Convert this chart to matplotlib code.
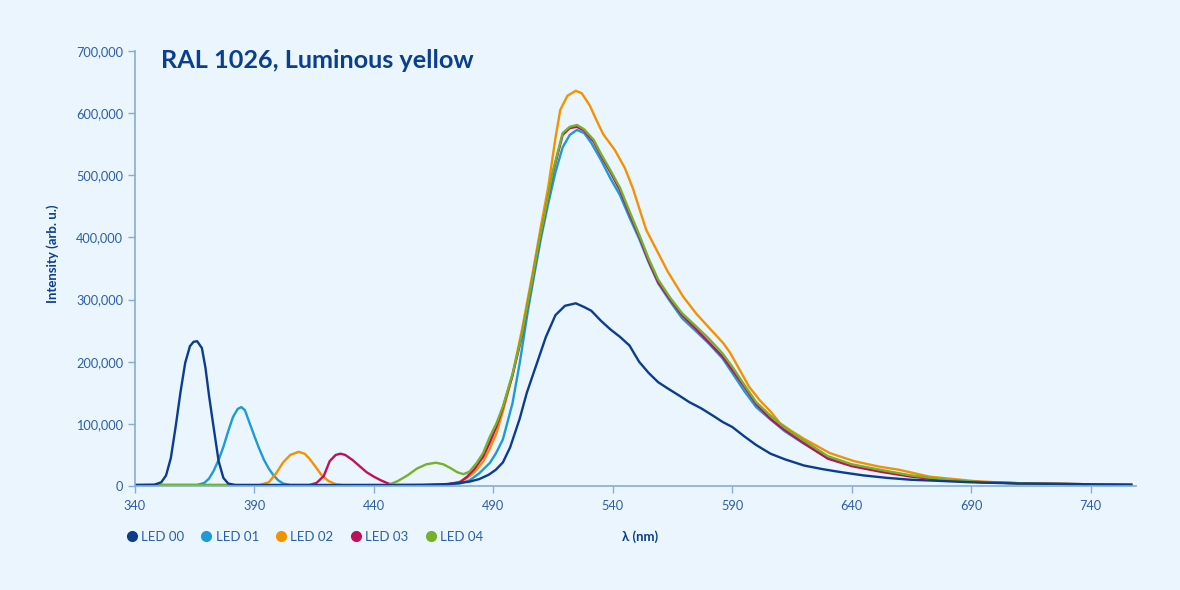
import matplotlib.pyplot as plt
from matplotlib.lines import Line2D
from matplotlib.ticker import FuncFormatter

plt.rcParams['font.family'] = ['Lato', 'DejaVu Sans']

# wavelengths (nm) and intensities (thousands, arb. u.)
led00_nm = [340, 348, 351, 353, 355, 357, 359, 361, 363, 364.5, 366, 368, 369.5, 371, 373, 375, 377, 379, 382, 386,
            460, 470, 476, 480, 484, 488, 491, 494, 497, 501, 504, 508, 512, 516, 520, 524.5, 528, 531, 535, 539,
            543, 547, 551, 555, 559, 563, 568, 572, 577, 582, 586, 590, 595, 600, 606, 612, 620, 628, 636, 645,
            655, 665, 675, 690, 710, 735, 757]
led00_val = [1.5, 2, 6, 17, 45, 95, 150, 198, 225, 232, 233, 222, 190, 145, 92, 40, 13, 4, 1.5, 1.5,
             1.5, 3, 5, 7, 11, 18, 26, 38, 62, 108, 150, 195, 240, 275, 290, 294, 288, 282, 266, 252,
             240, 226, 200, 182, 167, 157, 145, 135, 125, 113, 103, 95, 80, 66, 52, 43, 33, 27, 22, 17,
             13, 10, 8.5, 6, 4, 3, 2]

led01_nm = [340, 366, 369, 371, 373, 375, 377, 379, 381, 383, 384.5, 386, 388, 390, 392, 394, 396, 398, 400, 402,
            405, 470, 476, 480, 484, 488.5, 491, 494, 498, 501, 504.5, 507.5, 510, 513, 516, 519, 522, 525, 528,
            531, 535, 539, 543, 547, 551, 555, 559, 564, 569, 574, 580, 586, 590, 595, 600, 606, 612, 620, 630,
            640, 652, 665, 680, 695, 715, 735, 757]
led01_val = [1.5, 1.5, 5, 12, 25, 42, 63, 88, 111, 124, 127, 122, 101, 80, 60, 42, 28, 17, 9, 4,
             1.5, 1.5, 4, 9, 20, 37, 52, 75, 133, 197, 283, 348, 400, 455, 505, 545, 565, 573, 568,
             552, 525, 495, 468, 432, 398, 360, 326, 297, 270, 252, 230, 205, 182, 153, 127, 107, 88, 68, 45,
             33, 24, 16, 10, 6, 4, 3, 2]

led02_nm = [340, 392, 396, 399, 402, 405, 408.5, 411, 413, 415, 418, 421, 424, 427, 470, 476, 479, 482, 485.7,
            488.5, 491.3, 494, 498, 502, 506.7, 510, 513, 516, 518, 521, 524.5, 527, 530.4, 533, 536, 540.8,
            545, 548.5, 551.3, 554, 558.3, 563, 569.4, 575, 580, 586.2, 589, 593.1, 597, 601.5, 606, 610,
            615, 620, 630.8, 641, 651.7, 660, 672.6, 691, 710, 735, 757]
led02_val = [1.5, 1.5, 6, 20, 38, 50, 55, 52, 44, 34, 18, 8, 3, 1.5, 2, 7, 13, 22, 39,
             60, 85, 120, 178, 252, 348, 420, 482, 560, 605, 628, 636, 632, 612, 590, 566, 541,
             512, 478, 444, 412, 380, 345, 305, 277, 256, 230, 215, 187, 160, 138, 120, 101,
             88, 76, 53, 40, 31, 26, 15, 8, 4, 3, 2]

led03_nm = [340, 413, 416, 419, 421.5, 424, 426, 428, 431, 434, 437, 440, 443, 446, 449, 470, 476, 479, 482,
            485.7, 488.5, 491.3, 494, 498, 502, 506, 509, 512, 515, 519, 522, 525, 528, 532, 535, 539, 543,
            547, 551, 555, 559, 564, 569, 574, 580, 586, 590, 595, 600, 606, 612, 620, 630, 640, 652, 665,
            680, 695, 715, 735, 757]
led03_val = [1.5, 1.5, 5, 16, 40, 50, 52, 50, 42, 32, 22, 15, 9, 4, 1.5, 2, 6, 15, 27,
             47, 70, 96, 126, 178, 242, 324, 388, 445, 505, 565, 576, 578, 572, 554, 532, 505, 476,
             438, 402, 362, 328, 300, 275, 256, 232, 208, 187, 160, 132, 108, 90, 69, 44, 32, 23, 15,
             9, 6, 4, 3, 2]

led04_nm = [340, 446, 450, 454, 458, 462, 466, 469, 472, 475, 477.5, 480, 483, 485.7, 488.5, 491.3, 494, 498,
            502, 506, 509, 512, 515, 519, 522, 525, 528, 532, 535, 539, 543, 547, 551, 555, 559, 564, 569,
            574, 580, 586, 590, 595, 600, 606, 612, 620, 630, 640, 652, 665, 680, 695, 715, 735, 757]
led04_val = [1.5, 1.5, 8, 17, 28, 35, 37.5, 35, 29, 22, 19, 23, 37, 53, 79, 101, 128, 180,
             245, 326, 390, 447, 508, 568, 578, 581, 574, 557, 535, 508, 480, 442, 405, 366, 332, 303, 278,
             260, 238, 213, 192, 163, 135, 113, 94, 73, 48, 35, 26, 17, 10, 6, 4, 3, 2]

series_names = ["LED 00", "LED 01", "LED 02", "LED 03", "LED 04"]
series_colors = ["#0c3c8e", "#1d9ad8", "#f39200", "#c0105c", "#76b12a"]

bg = "#eaf5fd"
axis_col = "#86acd8"
tick_col = "#2c5fa8"
dark_blue = "#0a3f8f"

fig = plt.figure(figsize=(11.8, 5.9), dpi=100, facecolor=bg)
ax = fig.add_axes([135 / 1180, 1 - 486 / 590, 1001 / 1180, 435 / 590])
ax.set_facecolor(bg)

data = {
    "LED 00": (led00_nm, led00_val),
    "LED 01": (led01_nm, led01_val),
    "LED 02": (led02_nm, led02_val),
    "LED 03": (led03_nm, led03_val),
    "LED 04": (led04_nm, led04_val),
}
# draw order: navy on top
for name in ["LED 01", "LED 02", "LED 03", "LED 04", "LED 00"]:
    nm, val = data[name]
    col = series_colors[series_names.index(name)]
    ax.plot(nm, [v * 1000 for v in val], color=col, lw=1.7, solid_joinstyle="round")

ax.set_xlim(340, 759)
ax.set_ylim(0, 700000)
ax.set_xticks(range(340, 741, 50))
ax.set_yticks(range(0, 700001, 100000))
ax.yaxis.set_major_formatter(FuncFormatter(lambda v, p: "{:,.0f}".format(v)))

for s in ["top", "right"]:
    ax.spines[s].set_visible(False)
for s in ["left", "bottom"]:
    ax.spines[s].set_color(axis_col)
    ax.spines[s].set_linewidth(1.2)
ax.tick_params(colors=axis_col, labelcolor=tick_col, labelsize=9.2, length=5, width=1)
ax.tick_params(axis="x", pad=5)

ax.set_ylabel("Intensity (arb. u.)", fontsize=9.5, fontweight="bold", color=dark_blue)
ax.yaxis.set_label_coords(-76 / 1001, (486 - 254) / 435)
fig.text(640 / 1180, 1 - 537 / 590, "λ (nm)", fontsize=9.5, fontweight="bold", color=dark_blue,
         ha="center", va="center")

fig.text(161 / 1180, 1 - 61 / 590, "RAL 1026, Luminous yellow", fontsize=18.2, fontweight="bold",
         color=dark_blue, va="center")

handles = [Line2D([], [], ls="none", marker="o", markersize=7, color=c) for c in series_colors]
leg = fig.legend(handles, series_names, loc="center left", bbox_to_anchor=(121 / 1180, 1 - 537 / 590),
                 ncol=5, frameon=False, fontsize=9.5, handlelength=0.8, handletextpad=0.3,
                 columnspacing=1.3, borderaxespad=0)
for t in leg.get_texts():
    t.set_color(tick_col)

fig.savefig("out.png", dpi=100, facecolor=bg)
